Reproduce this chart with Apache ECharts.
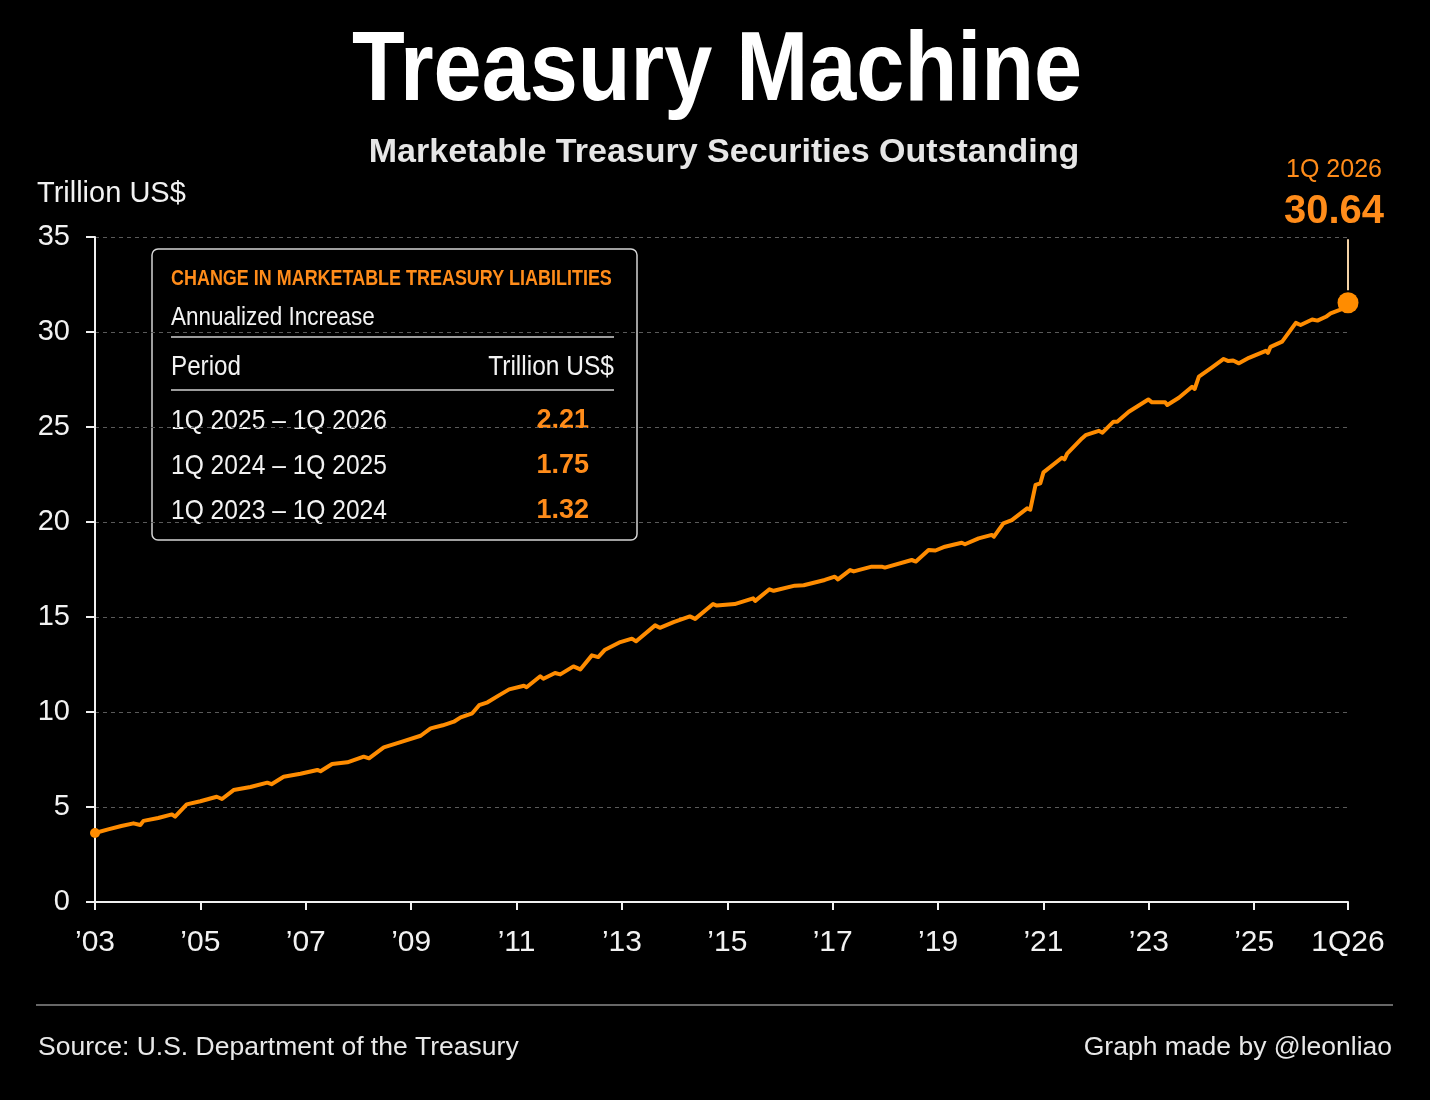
<!DOCTYPE html>
<html>
<head>
<meta charset="utf-8">
<script src="https://cdn.jsdelivr.net/npm/echarts@6/dist/echarts.min.js"></script>
<style>
html,body{margin:0;padding:0;background:#000;}
#chart{width:1430px;height:1100px;}
</style>
</head>
<body>
<div id="chart"></div>
<script>
// ---- Data ----
const years = [
  2003.00,2003.25,2003.50,2003.73,2003.86,2003.92,2004.20,2004.46,2004.52,2004.74,
  2005.00,2005.31,2005.41,2005.63,2005.95,2006.27,2006.35,2006.58,2006.90,2007.22,
  2007.28,2007.50,2007.79,2008.10,2008.20,2008.48,2008.83,2009.18,2009.37,2009.60,
  2009.81,2009.94,2010.16,2010.19,2010.29,2010.45,2010.65,2010.86,2011.14,2011.19,
  2011.45,2011.51,2011.73,2011.83,2012.08,2012.21,2012.43,2012.55,2012.68,2012.97,
  2013.19,2013.27,2013.63,2013.72,2013.98,2014.29,2014.39,2014.73,2014.80,2015.14,
  2015.49,2015.53,2015.80,2015.88,2016.28,2016.45,2016.85,2017.04,2017.10,2017.33,
  2017.40,2017.74,2017.93,2017.99,2018.50,2018.58,2018.82,2018.95,2019.13,2019.45,
  2019.51,2019.77,2020.02,2020.06,2020.24,2020.40,2020.69,2020.75,2020.85,2020.94,
  2021.00,2021.35,2021.40,2021.45,2021.73,2021.80,2022.05,2022.12,2022.33,2022.40,
  2022.62,2022.99,2023.06,2023.31,2023.35,2023.57,2023.82,2023.87,2023.95,2024.20,
  2024.42,2024.51,2024.60,2024.71,2024.90,2025.22,2025.26,2025.31,2025.53,2025.79,
  2025.88,2026.10,2026.20,2026.36,2026.45,2026.70,2026.78
];
const values = [
  3.63,3.82,4.00,4.14,4.05,4.27,4.42,4.61,4.49,5.14,
  5.30,5.54,5.42,5.89,6.05,6.28,6.20,6.59,6.75,6.95,
  6.88,7.26,7.35,7.65,7.56,8.14,8.44,8.75,9.14,9.30,
  9.49,9.72,9.93,9.85,10.36,10.51,10.85,11.19,11.38,11.30,
  11.88,11.75,12.05,11.98,12.40,12.24,12.98,12.89,13.28,13.68,
  13.86,13.72,14.56,14.43,14.73,15.03,14.90,15.68,15.60,15.68,
  15.98,15.85,16.46,16.38,16.65,16.67,16.95,17.12,16.98,17.47,
  17.40,17.65,17.65,17.60,18.00,17.92,18.53,18.50,18.70,18.91,
  18.83,19.14,19.32,19.23,19.93,20.10,20.72,20.65,21.95,22.03,
  22.61,23.38,23.30,23.60,24.40,24.57,24.80,24.70,25.28,25.28,
  25.80,26.45,26.30,26.30,26.16,26.54,27.12,27.00,27.65,28.14,
  28.58,28.47,28.50,28.35,28.64,29.01,28.90,29.22,29.49,30.48,
  30.37,30.66,30.60,30.80,30.98,31.24,31.54
];
const xTickValues = [2003,2005,2007,2009,2011,2013,2015,2017,2019,2021,2023,2025,2026.78];
const xTickLabels = ['\u201903','\u201905','\u201907','\u201909','\u201911','\u201913','\u201915','\u201917','\u201919','\u201921','\u201923','\u201925','1Q26'];
const latestPeriod = '1Q 2026';
const latestValueText = '30.64';
const boxTitle = 'CHANGE IN MARKETABLE TREASURY LIABILITIES';
const boxSubtitle = 'Annualized Increase';
const boxHeaders = ['Period', 'Trillion US$'];
const boxPeriods = ['1Q 2025 \u2013 1Q 2026', '1Q 2024 \u2013 1Q 2025', '1Q 2023 \u2013 1Q 2024'];
const boxValues = ['2.21', '1.75', '1.32'];

// ---- Build ----
const ORANGE = '#ff8c00';
const TXT_ORANGE = '#ff8c1a';
const FONT = '"Liberation Sans", Arial, sans-serif';
const lineData = years.map((y, i) => [y, values[i]]);
const n = years.length;

const chart = echarts.init(document.getElementById('chart'), null, {renderer: 'canvas'});

function txt(x, y, text, opts) {
  return Object.assign({
    type: 'text', x: x, y: y,
    style: Object.assign({
      text: text, fill: '#f2f2f2', align: 'left', verticalAlign: 'middle',
      font: '26px ' + FONT
    }, opts.style || {})
  }, opts.el || {});
}

const boxChildren = [
  {type: 'rect', shape: {x: 152, y: 249, width: 485, height: 291, r: 6},
   style: {fill: '#000', stroke: '#d4d4d4', lineWidth: 1.5}},
  txt(171, 279, boxTitle, {style: {font: 'bold 22px ' + FONT, fill: TXT_ORANGE}, el: {scaleX: 0.816}}),
  txt(171, 318, boxSubtitle, {style: {font: '26px ' + FONT}, el: {scaleX: 0.865}}),
  {type: 'line', shape: {x1: 171, y1: 337, x2: 614, y2: 337}, style: {stroke: '#d0d0d0', lineWidth: 1.5}},
  txt(171, 367, boxHeaders[0], {style: {font: '28px ' + FONT}, el: {scaleX: 0.865}}),
  txt(614, 367, boxHeaders[1], {style: {font: '28px ' + FONT, align: 'right'}, el: {scaleX: 0.876}}),
  {type: 'line', shape: {x1: 171, y1: 390, x2: 614, y2: 390}, style: {stroke: '#d0d0d0', lineWidth: 1.5}}
];
boxPeriods.forEach((p, i) => {
  boxChildren.push(txt(171, 421 + i * 45, p, {style: {font: '28px ' + FONT}, el: {scaleX: 0.878}}));
  boxChildren.push(txt(589, 421 + i * 45, boxValues[i], {style: {font: 'bold 27px ' + FONT, fill: TXT_ORANGE, align: 'right'}}));
});

const option = {
  backgroundColor: '#000',
  animation: false,
  grid: {left: 95, right: 82, top: 237, bottom: 198, containLabel: false},
  xAxis: {
    type: 'value', min: 2003, max: 2026.78,
    axisLine: {show: true, lineStyle: {color: '#f0f0f0', width: 2}},
    axisTick: {show: true, length: 8, lineStyle: {color: '#f0f0f0', width: 2}, customValues: xTickValues},
    axisLabel: {
      customValues: xTickValues, color: '#f2f2f2', fontSize: 30, fontFamily: FONT, margin: 26,
      formatter: function (v) {
        const i = xTickValues.findIndex(t => Math.abs(t - v) < 1e-6);
        return i >= 0 ? xTickLabels[i] : '';
      }
    },
    splitLine: {show: false}
  },
  yAxis: {
    type: 'value', min: 0, max: 35, interval: 5,
    axisLine: {show: true, lineStyle: {color: '#f0f0f0', width: 2}},
    axisTick: {show: true, length: 9, lineStyle: {color: '#f0f0f0', width: 2}},
    axisLabel: {color: '#f2f2f2', fontSize: 29, fontFamily: FONT, margin: 25},
    splitLine: {show: true, lineStyle: {color: '#5a5a5a', width: 1, type: [4, 4]}}
  },
  series: [
    {
      type: 'line', data: lineData, showSymbol: false, smooth: false,
      lineStyle: {color: ORANGE, width: 4, join: 'round'}, z: 3
    },
    {
      type: 'scatter', z: 5,
      data: [
        {value: lineData[0], symbolSize: 10},
        {
          value: lineData[n - 1], symbolSize: 21,
          label: {
            show: true, position: 'top', distance: 2, offset: [-14, 0], align: 'center',
            formatter: '{a|' + latestPeriod + '}\n{b|' + latestValueText + '}\n{s| }{l| }',
            rich: {
              a: {fontSize: 25, lineHeight: 30, color: TXT_ORANGE, fontFamily: FONT},
              b: {fontSize: 40, lineHeight: 54, fontWeight: 'bold', color: TXT_ORANGE, fontFamily: FONT},
              s: {width: 28, height: 51, fontSize: 1},
              l: {width: 2, height: 51, fontSize: 1, backgroundColor: '#f3d2a6'}
            }
          }
        }
      ],
      itemStyle: {color: ORANGE, opacity: 1},
      label: {show: false},
      emphasis: {disabled: true}
    }
  ],
  graphic: [
    txt(717, 73, 'Treasury Machine', {style: {font: 'bold 99px ' + FONT, fill: '#ffffff', align: 'center'}, el: {scaleX: 0.873}}),
    txt(724, 153, 'Marketable Treasury Securities Outstanding', {style: {font: 'bold 34px ' + FONT, fill: '#e6e6e6', align: 'center'}}),
    txt(37, 194, 'Trillion US$', {style: {font: '29px ' + FONT, fill: '#f2f2f2'}}),
    {type: 'group', children: boxChildren},
    {type: 'line', shape: {x1: 36, y1: 1005, x2: 1393, y2: 1005}, style: {stroke: '#8a8a8a', lineWidth: 1.5}},
    txt(38, 1048, 'Source: U.S. Department of the Treasury', {style: {font: '26.5px ' + FONT, fill: '#e8e8e8'}}),
    txt(1392, 1048, 'Graph made by @leonliao', {style: {font: '26.5px ' + FONT, fill: '#e8e8e8', align: 'right'}})
  ]
};
chart.setOption(option);
</script>
</body>
</html>
